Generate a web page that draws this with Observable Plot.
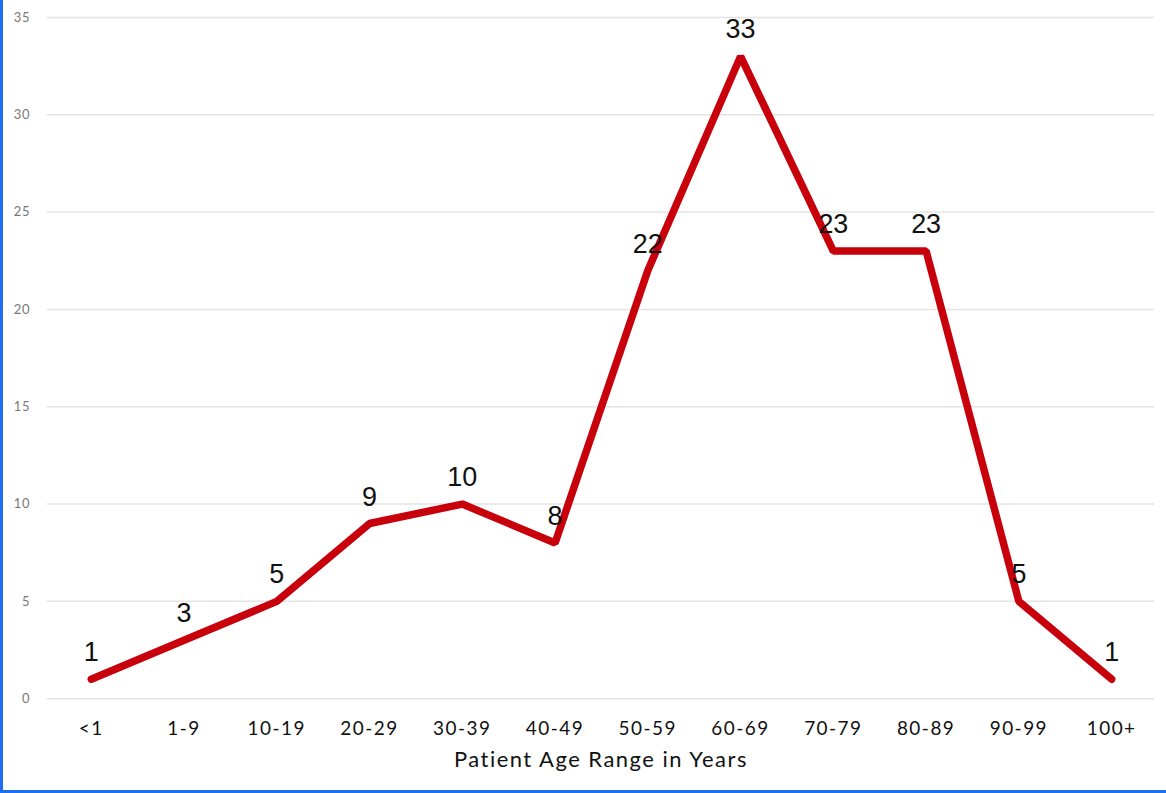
<!DOCTYPE html>
<html>
<head>
<meta charset="utf-8">
<script src="https://cdn.jsdelivr.net/npm/d3@7"></script>
<script src="https://cdn.jsdelivr.net/npm/@observablehq/plot@0.6"></script>
<style>
  html, body { margin: 0; padding: 0; background: #fff; }
  #chart {
    width: 1166px; height: 793px; box-sizing: border-box;
    border-left: 3px solid #1f6df0; border-bottom: 3px solid #1f6df0;
    overflow: hidden; position: relative;
  }
  #chart svg { position: absolute; left: -3px; top: 0; }
  /* wide, airy lettering for the axis text */
  #chart g[aria-label="x-axis tick label"] text,
  #chart text[aria-label="axis title"] { letter-spacing: 1.5px; }
  #chart g[aria-label="y-axis tick label"] text { letter-spacing: 0.8px; }
</style>
</head>
<body>
<div id="chart"></div>
<script>
// Patients by age band
const ageRanges = ["<1", "1-9", "10-19", "20-29", "30-39", "40-49", "50-59", "60-69", "70-79", "80-89", "90-99", "100+"];
const patientCounts = [1, 3, 5, 9, 10, 8, 22, 33, 23, 23, 5, 1];
const yTicks = [0, 5, 10, 15, 20, 25, 30, 35];
const xTitle = "Patient Age Range in Years";

const rows = ageRanges.map((age, i) => ({age, count: patientCounts[i]}));

const axisFont = "Lato, 'Open Sans', sans-serif";
const lineColor = "#c8000c";

const chart = Plot.plot({
  width: 1166,
  height: 793,
  marginTop: 17,
  marginBottom: 93,
  marginLeft: 47,
  marginRight: 9,
  style: {background: "transparent", fontFamily: axisFont},
  x: {type: "point", domain: ageRanges, padding: 0.462, label: null},
  y: {domain: [0, 35], label: null},
  marks: [
    Plot.gridY(yTicks, {stroke: "#e4e4e4", strokeOpacity: 1, strokeWidth: 1.5}),
    Plot.axisY(yTicks, {tickSize: 0, tickPadding: 17, fontSize: 13, fill: "#777", label: null}),
    Plot.axisX({tickSize: 0, tickPadding: 23, fontSize: 19, fill: "#111", label: null}),
    Plot.text([xTitle], {
      text: d => d,
      ariaLabel: () => "axis title",
      frameAnchor: "bottom", dy: 68, lineAnchor: "bottom",
      fontSize: 22, fill: "#111", fontFamily: axisFont
    }),
    Plot.line(rows, {
      x: "age", y: "count", stroke: lineColor, strokeWidth: 7.5,
      strokeLinejoin: "miter", strokeLinecap: "round"
    }),
    Plot.text(rows, {
      x: "age", y: "count", text: d => String(d.count),
      lineAnchor: "bottom", dy: -18, fontSize: 27, fill: "#111",
      fontFamily: "'Liberation Sans', Arial, sans-serif"
    })
  ]
});

document.getElementById("chart").append(chart);
</script>
</body>
</html>
